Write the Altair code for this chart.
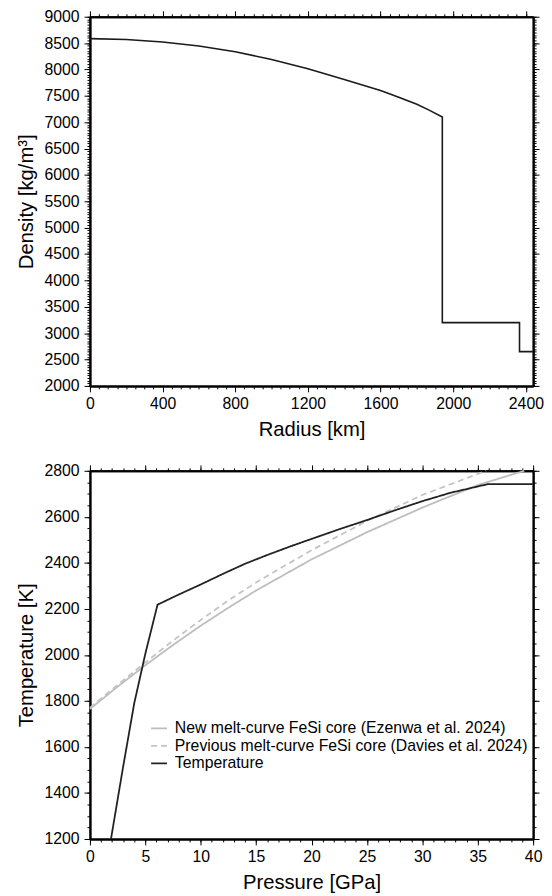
import altair as alt
import pandas as pd

# ---------------- Panel 1: density profile ----------------
radius_km = [0, 200, 400, 600, 800, 1000, 1200, 1400, 1600, 1700, 1800, 1870, 1940,
             1940, 2365, 2365, 2440]
density_kgm3 = [8585, 8570, 8522, 8445, 8335, 8190, 8015, 7810, 7600, 7475, 7340, 7225, 7100,
                3200, 3200, 2650, 2650]

# ---------------- Panel 2: temperature & melt curves ----------------
series_names = [
    "New melt-curve FeSi core (Ezenwa et al. 2024)",
    "Previous melt-curve FeSi core (Davies et al. 2024)",
    "Temperature",
]
new_melt_pressure = [0, 2.5, 5, 7.5, 10, 12.5, 15, 20, 25, 30, 35, 39.2]
new_melt_temp = [1765, 1862, 1955, 2043, 2127, 2205, 2280, 2415, 2533, 2640, 2738, 2800]

prev_melt_pressure = [0, 2.5, 5, 7.5, 10, 12.5, 15, 20, 25, 30, 35, 35.75]
prev_melt_temp = [1770, 1870, 1967, 2062, 2152, 2237, 2315, 2455, 2582, 2695, 2786, 2800]

temp_pressure = [1.9, 3.0, 4.0, 5.0, 6.1, 8.0, 10.0, 12.0, 14.0, 16.0, 18.0, 20.0, 22.5, 25.0,
                 27.5, 30.0, 32.5, 35.9, 40.0]
temp_values = [1200, 1515, 1790, 2005, 2218, 2262, 2306, 2352, 2396, 2434, 2470, 2504, 2546, 2586,
               2628, 2668, 2704, 2742, 2742]

series_colors = ["#bdbdbd", "#c4c4c4", "#222222"]
series_dashes = [[1, 0], [6, 4], [1, 0]]

FONT = "Liberation Sans"

df_rho = pd.DataFrame({"r": radius_km, "rho": density_kgm3, "i": range(len(radius_km))})

rows = []
for name, ps, ts in [
    (series_names[0], new_melt_pressure, new_melt_temp),
    (series_names[1], prev_melt_pressure, prev_melt_temp),
    (series_names[2], temp_pressure, temp_values),
]:
    for k, (p, t) in enumerate(zip(ps, ts)):
        rows.append({"series": name, "P": p, "T": t, "i": k})
df_T = pd.DataFrame(rows)


def frange(a, b, step):
    out = []
    v = a
    while v <= b + 1e-9:
        out.append(round(v, 6))
        v += step
    return out


def ax(orient, values, tick, labels=False, title=None, extent=None, title_pad=None, label_pad=None):
    kw = dict(orient=orient, values=values, ticks=True, tickSize=tick, labels=labels, grid=False,
              domain=True, domainColor="black", domainWidth=2, tickColor="black",
              tickWidth=1, labelFlush=False, labelOverlap=False, title=title, format="d")
    if extent is not None:
        kw["minExtent"] = extent
        kw["maxExtent"] = extent
    if title_pad is not None:
        kw["titlePadding"] = title_pad
    if label_pad is not None:
        kw["labelPadding"] = label_pad
    return alt.Axis(**kw)


def panel(main, data, xf, yf, xdom, ydom, xmaj, xmin, ymaj, ymin, xtitle, ytitle, w, h):
    xs = alt.Scale(domain=xdom, nice=False, zero=False)
    ys = alt.Scale(domain=ydom, nice=False, zero=False)
    l1 = main.encode(
        x=alt.X(xf, scale=xs, axis=ax("bottom", xmaj, 6, True, xtitle, 25, 9, 4)),
        y=alt.Y(yf, scale=ys, axis=ax("left", ymaj, 6, True, ytitle, 49, 5, 5)),
    )
    dummy = alt.Chart(data).mark_point(opacity=0)
    l2 = dummy.encode(
        x=alt.X(xf, scale=xs, axis=ax("bottom", xmin, 3)),
        y=alt.Y(yf, scale=ys, axis=ax("left", ymin, 3)),
    )
    l3 = dummy.encode(
        x=alt.X(xf, scale=xs, axis=ax("top", xmaj, 6)),
        y=alt.Y(yf, scale=ys, axis=ax("right", ymaj, 6)),
    )
    l4 = dummy.encode(
        x=alt.X(xf, scale=xs, axis=ax("top", xmin, 3)),
        y=alt.Y(yf, scale=ys, axis=ax("right", ymin, 3)),
    )
    return alt.layer(l1, l2, l3, l4).resolve_axis(x="independent", y="independent").properties(
        width=w, height=h)


top_main = alt.Chart(df_rho).mark_line(color="#1a1a1a", strokeWidth=1.6).encode(order="i:Q")
top = panel(top_main, df_rho, "r:Q", "rho:Q", [0, 2440], [2000, 9000],
            frange(0, 2400, 400), frange(0, 2400, 50),
            frange(2000, 9000, 500), frange(2000, 9000, 50),
            "Radius [km]", "Density [kg/m³]", 449, 374)

legend_kw = dict(orient="none", legendX=61, legendY=712, title=None,
                 symbolType="stroke", symbolSize=256, symbolStrokeWidth=1.8,
                 labelFont=FONT, labelFontSize=16, labelColor="black",
                 labelOffset=7, rowPadding=0.7, padding=0, labelLimit=0)

bottom_main = alt.Chart(df_T).mark_line(strokeWidth=1.8).encode(
    order="i:Q",
    detail="series:N",
    color=alt.Color("series:N", scale=alt.Scale(domain=series_names, range=series_colors),
                    legend=alt.Legend(**legend_kw)),
    strokeDash=alt.StrokeDash("series:N", scale=alt.Scale(domain=series_names, range=series_dashes),
                              legend=alt.Legend(**legend_kw)),
)
bottom = panel(bottom_main, df_T, "P:Q", "T:Q", [0, 40], [1200, 2800],
               frange(0, 40, 5), frange(0, 40, 1),
               frange(1200, 2800, 200), frange(1200, 2800, 50),
               "Pressure [GPa]", "Temperature [K]", 449, 373)

chart = alt.vconcat(top, bottom, spacing=23).properties(
    padding={"left": 9, "top": -5, "right": 0, "bottom": 5}
).configure_view(strokeWidth=0).configure_axis(
    labelFont=FONT, labelFontSize=16, labelColor="black",
    titleFont=FONT, titleFontSize=20.5, titleFontWeight="normal", titleColor="black",
)

chart.save("out.html", embed_options={"renderer": "svg", "actions": False})
